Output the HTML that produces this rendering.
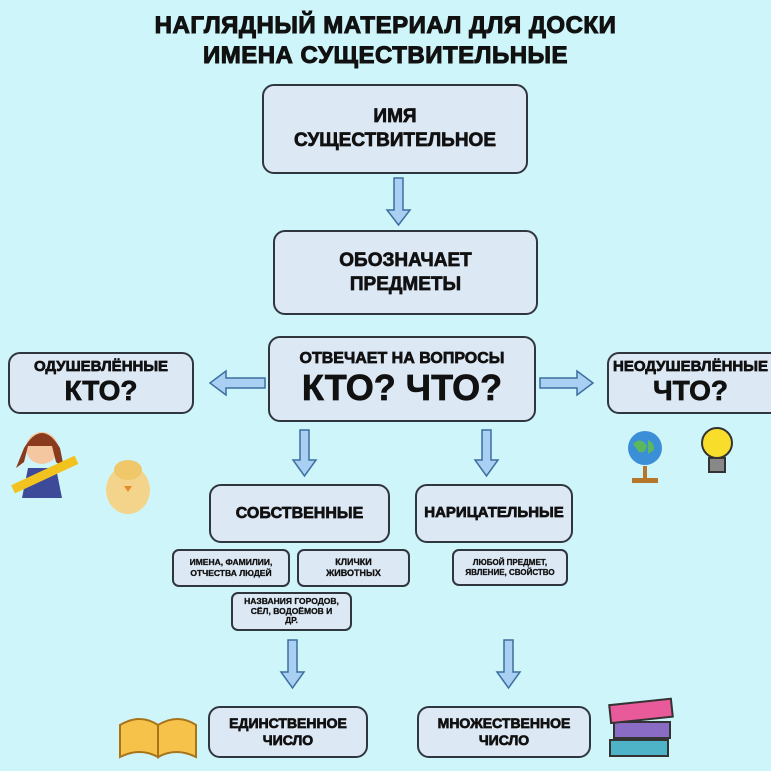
<!DOCTYPE html><html><head><meta charset="utf-8"><style>
body{margin:0;width:771px;height:771px;background:#cdf5fa;position:relative;overflow:hidden;font-family:"Liberation Sans","DejaVu Sans",sans-serif;font-weight:900}
.t{position:absolute;left:0;width:771px;text-align:center;font-size:24px;letter-spacing:0.5px;color:#111;font-weight:900;-webkit-text-stroke:1px #111}
.b{position:absolute;box-sizing:border-box;border:2px solid #30363e;border-radius:12px;background:#dde8f5;display:flex;flex-direction:column;align-items:center;justify-content:center;text-align:center;color:#111;line-height:1.25;-webkit-text-stroke:0.7px #111}
svg{position:absolute;left:0;top:0}
</style></head><body>
<div class="t" style="top:12px">НАГЛЯДНЫЙ МАТЕРИАЛ ДЛЯ ДОСКИ</div>
<div class="t" style="top:42px">ИМЕНА СУЩЕСТВИТЕЛЬНЫЕ</div>
<svg width="771" height="771">
<g fill="#a9d0f2" stroke="#3d6f9f" stroke-width="1.5">
<polygon points="394,178 403,178 403,210 410,210 398.5,225 387,210 394,210"/>
<polygon points="300,430 309,430 309,460 316,460 304.5,476 293,460 300,460"/>
<polygon points="482,430 491,430 491,460 498,460 486.5,476 475,460 482,460"/>
<polygon points="288,640 297,640 297,672 304,672 292.5,688 281,672 288,672"/>
<polygon points="504,640 513,640 513,672 520,672 508.5,688 497,672 504,672"/>
<polygon points="265,378 265,388 226,388 226,395 210,383 226,371 226,378"/>
<polygon points="540,378 540,388 577,388 577,395 593,383 577,371 577,378"/>
</g>
<circle cx="42" cy="448" r="16" fill="#f4c7a0"/><path d="M24 448 q18 -30 36 0 l4 20 -8 -6 -4 -16 -24 0 -4 16 -8 6z" fill="#8a3b1e"/>
<path d="M28 468 h28 l6 30 h-40z" fill="#3d4a9a"/><rect x="10" y="470" width="70" height="9" fill="#f2c31f" transform="rotate(-25 45 475)"/>
<ellipse cx="128" cy="490" rx="22" ry="24" fill="#f3d48a"/><ellipse cx="128" cy="470" rx="14" ry="10" fill="#f0c86a"/><polygon points="124,486 132,486 128,492" fill="#e88a2a"/>
<circle cx="645" cy="448" r="17" fill="#3b8fd6"/><path d="M633 444 q8 -8 14 2 q-2 8 -8 6z M648 440 q6 2 6 10 l-6 4z" fill="#5cb85c"/><rect x="643" y="466" width="4" height="12" fill="#b5772c"/><rect x="632" y="478" width="26" height="5" fill="#b5772c"/>
<circle cx="717" cy="443" r="15" fill="#f8dd2a" stroke="#333" stroke-width="2"/><rect x="709" y="458" width="16" height="14" fill="#888" stroke="#333" stroke-width="2"/>
<path d="M120 725 q20 -12 38 0 v32 q-18 -10 -38 0z" fill="#f6c24a" stroke="#a8741a" stroke-width="2"/><path d="M158 725 q20 -12 38 0 v32 q-20 -10 -38 0z" fill="#f6c24a" stroke="#a8741a" stroke-width="2"/>
<rect x="610" y="740" width="58" height="16" fill="#4fb3c8" stroke="#333" stroke-width="2"/><rect x="614" y="722" width="56" height="16" fill="#8a6cc4" stroke="#333" stroke-width="2"/><rect x="610" y="702" width="62" height="18" fill="#e85a9a" stroke="#333" stroke-width="2" transform="rotate(-6 640 711)"/>
</svg>
<div class="b" style="left:262px;top:84px;width:266px;height:90px;font-size:19px">ИМЯ<br>СУЩЕСТВИТЕЛЬНОЕ</div>
<div class="b" style="left:273px;top:230px;width:265px;height:85px;font-size:19px">ОБОЗНАЧАЕТ<br>ПРЕДМЕТЫ</div>
<div class="b" style="left:268px;top:336px;width:268px;height:86px;font-size:16px;line-height:1.1">ОТВЕЧАЕТ НА ВОПРОСЫ<span style="font-size:36px">КТО? ЧТО?</span></div>
<div class="b" style="left:8px;top:352px;width:186px;height:62px;font-size:15px;line-height:1.1">ОДУШЕВЛЁННЫЕ<span style="font-size:28px">КТО?</span></div>
<div class="b" style="left:607px;top:352px;width:180px;height:62px;font-size:15px;line-height:1.1;align-items:flex-start;padding-left:4px">НЕОДУШЕВЛЁННЫЕ<span style="font-size:28px;margin-left:40px">ЧТО?</span></div>
<div class="b" style="left:209px;top:484px;width:181px;height:59px;font-size:16px">СОБСТВЕННЫЕ</div>
<div class="b" style="left:415px;top:484px;width:158px;height:59px;font-size:15px">НАРИЦАТЕЛЬНЫЕ</div>
<div class="b" style="left:172px;top:549px;width:118px;height:38px;font-size:8.5px;border-radius:7px;-webkit-text-stroke:0.3px #111">ИМЕНА, ФАМИЛИИ,<br>ОТЧЕСТВА ЛЮДЕЙ</div>
<div class="b" style="left:297px;top:549px;width:113px;height:38px;font-size:9px;border-radius:7px;-webkit-text-stroke:0.3px #111">КЛИЧКИ<br>ЖИВОТНЫХ</div>
<div class="b" style="left:231px;top:592px;width:121px;height:39px;font-size:8.5px;border-radius:7px;line-height:1.15;-webkit-text-stroke:0.3px #111">НАЗВАНИЯ ГОРОДОВ,<br>СЁЛ, ВОДОЁМОВ И<br>ДР.</div>
<div class="b" style="left:452px;top:549px;width:116px;height:37px;font-size:8px;border-radius:7px;-webkit-text-stroke:0.3px #111">ЛЮБОЙ ПРЕДМЕТ,<br>ЯВЛЕНИЕ, СВОЙСТВО</div>
<div class="b" style="left:208px;top:706px;width:160px;height:52px;font-size:14px">ЕДИНСТВЕННОЕ<br>ЧИСЛО</div>
<div class="b" style="left:417px;top:706px;width:174px;height:52px;font-size:14px">МНОЖЕСТВЕННОЕ<br>ЧИСЛО</div>
</body></html>
